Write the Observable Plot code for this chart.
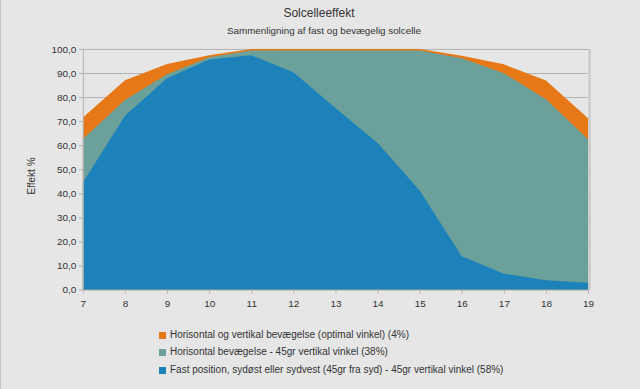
<!DOCTYPE html>
<html>
<head>
<meta charset="utf-8">
<script src="https://cdn.jsdelivr.net/npm/d3@7"></script>
<script src="https://cdn.jsdelivr.net/npm/@observablehq/plot@0.6"></script>
<style>
  html, body { margin: 0; padding: 0; background: #e6e6e6; }
  #chart { position: relative; width: 640px; height: 389px; background: #e6e6e6; overflow: hidden; box-sizing: border-box; border-left: 1px solid #c4c4c4; font-family: "Liberation Sans", Arial, sans-serif; color: #333; }
  #chart svg.plot { position: absolute; left: 0; top: 0; }
  .t { position: absolute; white-space: nowrap; }
  #title { top: 6px; left: 0; width: 636px; text-align: center; font-size: 12px; }
  #subtitle { top: 25px; left: 0; width: 646px; text-align: center; font-size: 9.8px; }
  #ylabel { left: 30px; top: 176px; font-size: 10px; transform: translate(-50%, -50%) rotate(-90deg); }
  .leg { position: absolute; left: 158px; font-size: 10px; white-space: nowrap; }
  .leg span.sw { display: inline-block; width: 7px; height: 7px; margin-right: 4px; vertical-align: -1px; }
</style>
</head>
<body>
<div id="chart">
  <div id="title" class="t">Solcelleeffekt</div>
  <div id="subtitle" class="t">Sammenligning af fast og bevægelig solcelle</div>
  <div id="ylabel" class="t">Effekt %</div>
</div>
<script>
const hours = [7, 8, 9, 10, 11, 12, 13, 14, 15, 16, 17, 18, 19];
const optimal = [71.5, 87.0, 93.7, 97.4, 100, 100, 100, 100, 100, 97.2, 93.6, 86.9, 71.2];
const horizontal = [62.6, 78.8, 89.5, 96.5, 99.3, 99.3, 99.3, 99.3, 99.3, 96.1, 89.9, 79.1, 62.5];
const fixed = [44.5, 72.2, 87.8, 95.6, 97.4, 90.3, 75.4, 60.9, 41.2, 13.8, 6.6, 3.9, 2.8];
const seriesNames = [
  "Horisontal og vertikal bevægelse (optimal vinkel) (4%)",
  "Horisontal bevægelse - 45gr vertikal vinkel (38%)",
  "Fast position, sydøst eller sydvest (45gr fra syd) - 45gr vertikal vinkel (58%)"
];
const colors = ["#e67818", "#6ba19a", "#1d81ba"];
const yTicks = [0, 10, 20, 30, 40, 50, 60, 70, 80, 90, 100];

const rows = hours.map((h, i) => ({hour: h, optimal: optimal[i], horizontal: horizontal[i], fixed: fixed[i]}));

const plot = Plot.plot({
  width: 640,
  height: 310,
  marginLeft: 82,
  marginRight: 52,
  marginTop: 49,
  marginBottom: 20,
  style: {background: "transparent", fontFamily: "'Liberation Sans', Arial, sans-serif", fontSize: "10px", color: "#333", overflow: "visible"},
  x: {domain: [7, 19], label: null},
  y: {domain: [0, 100], label: null},
  marks: [
    Plot.gridY(yTicks, {stroke: "#b3b3b3", strokeOpacity: 1}),
    Plot.areaY(rows, {x: "hour", y1: 0, y2: "optimal", fill: colors[0]}),
    Plot.areaY(rows, {x: "hour", y1: 0, y2: "horizontal", fill: colors[1]}),
    Plot.areaY(rows, {x: "hour", y1: 0, y2: "fixed", fill: colors[2]}),
    Plot.ruleX([7], {stroke: "#b3b3b3"}),
    Plot.ruleX([19], {stroke: "#c6c6c6", strokeWidth: 2, dx: 1}),
    Plot.axisX(hours, {tickSize: 4, tickPadding: 6, stroke: "#b3b3b3", fill: "#333", tickFormat: d => String(d), label: null}),
    Plot.axisY(yTicks, {tickSize: 4, tickPadding: 3, stroke: "#b3b3b3", fill: "#333", tickFormat: d => d.toFixed(1).replace(".", ","), label: null})
  ]
});
plot.classList.add("plot");
const chart = document.getElementById("chart");
chart.appendChild(plot);

const legendTops = [329, 346, 364];
seriesNames.forEach((name, i) => {
  const d = document.createElement("div");
  d.className = "leg";
  d.style.top = legendTops[i] + "px";
  const sw = document.createElement("span");
  sw.className = "sw";
  sw.style.background = colors[i];
  d.appendChild(sw);
  d.appendChild(document.createTextNode(name));
  chart.appendChild(d);
});
</script>
</body>
</html>
